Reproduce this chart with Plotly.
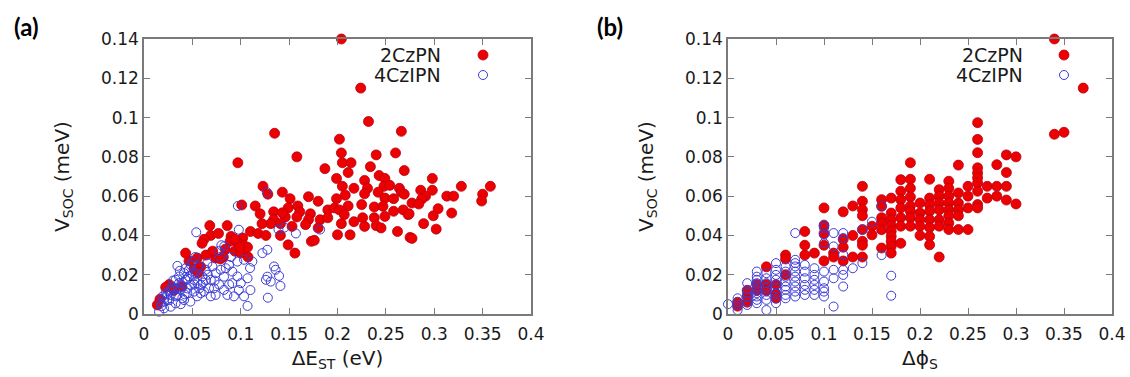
import plotly.graph_objects as go

# ---------------- Panel (a): V_SOC vs dE_ST ----------------
a_red = [
    (0.204, 0.140), (0.224, 0.115), (0.232, 0.098), (0.266, 0.093), (0.135, 0.092), (0.202, 0.089),
    (0.097, 0.077), (0.158, 0.080),
    (0.204, 0.082), (0.240, 0.081), (0.260, 0.082), (0.187, 0.074), (0.205, 0.077), (0.214, 0.077),
    (0.211, 0.072), (0.234, 0.075), (0.269, 0.073), (0.199, 0.069), (0.228, 0.068), (0.243, 0.0705),
    (0.249, 0.069), (0.205, 0.065), (0.217, 0.064), (0.231, 0.064), (0.248, 0.065), (0.254, 0.0655),
    (0.264, 0.064), (0.266, 0.062), (0.151, 0.0587), (0.170, 0.0597), (0.180, 0.0574), (0.199, 0.0587),
    (0.208, 0.0605), (0.228, 0.0612), (0.242, 0.062), (0.249, 0.059), (0.258, 0.0587), (0.269, 0.061),
    (0.277, 0.0565), (0.149, 0.054), (0.159, 0.055), (0.161, 0.052), (0.172, 0.051), (0.182, 0.048),
    (0.190, 0.053), (0.197, 0.054), (0.202, 0.053), (0.211, 0.055), (0.225, 0.0557), (0.238, 0.0545),
    (0.247, 0.0548), (0.258, 0.0523), (0.268, 0.053), (0.273, 0.0506), (0.146, 0.0494), (0.158, 0.0494),
    (0.170, 0.048), (0.190, 0.049), (0.207, 0.0506), (0.226, 0.049), (0.238, 0.049), (0.249, 0.0497),
    (0.153, 0.0446), (0.167, 0.0455), (0.180, 0.0438), (0.204, 0.046), (0.217, 0.047), (0.228, 0.0446),
    (0.240, 0.045), (0.245, 0.0438), (0.262, 0.042), (0.200, 0.0403), (0.213, 0.0403), (0.173, 0.037),
    (0.176, 0.0375), (0.149, 0.0352), (0.156, 0.031), (0.275, 0.039),
    (0.298, 0.069), (0.328, 0.065), (0.358, 0.065), (0.286, 0.063), (0.298, 0.063), (0.291, 0.060),
    (0.313, 0.060), (0.320, 0.060), (0.350, 0.061), (0.349, 0.0575), (0.287, 0.0585), (0.284, 0.056),
    (0.304, 0.0536), (0.318, 0.0514), (0.274, 0.051), (0.299, 0.050), (0.289, 0.046), (0.302, 0.0432),
    (0.277, 0.0385),
    (0.123, 0.065), (0.143, 0.062), (0.128, 0.061), (0.101, 0.0555), (0.115, 0.055), (0.120, 0.051),
    (0.134, 0.052), (0.143, 0.0515), (0.134, 0.048), (0.141, 0.046), (0.131, 0.046), (0.122, 0.046),
    (0.110, 0.042), (0.118, 0.041), (0.126, 0.040), (0.141, 0.040), (0.068, 0.045), (0.086, 0.045),
    (0.069, 0.040), (0.062, 0.038), (0.090, 0.0395), (0.089, 0.037), (0.102, 0.0387), (0.097, 0.036),
    (0.103, 0.035), (0.084, 0.033), (0.082, 0.029), (0.074, 0.0285), (0.055, 0.0285), (0.0465, 0.027),
    (0.043, 0.031), (0.064, 0.030), (0.094, 0.032), (0.100, 0.031), (0.1075, 0.029), (0.0586, 0.024),
    (0.0517, 0.023), (0.079, 0.028), (0.071, 0.032), (0.026, 0.015), (0.0224, 0.0136), (0.0165, 0.0075),
    (0.0138, 0.0046), (0.077, 0.041), (0.060, 0.036), (0.056, 0.021), (0.031, 0.012), (0.039, 0.014),
    (0.107, 0.034), (0.099, 0.034), (0.094, 0.038),
]

a_blue = [
    (0.054, 0.0416), (0.098, 0.0429), (0.083, 0.0345), (0.0786, 0.029), (0.090, 0.029), (0.0345, 0.0245),
    (0.050, 0.0267), (0.0655, 0.0259), (0.0707, 0.0242), (0.0965, 0.0267), (0.1034, 0.0276), (0.1096, 0.0234),
    (0.112, 0.0267), (0.1224, 0.031), (0.1275, 0.0327), (0.1344, 0.0242), (0.136, 0.0225), (0.1396, 0.0194),
    (0.1275, 0.019), (0.131, 0.0165), (0.126, 0.0174), (0.141, 0.0143), (0.128, 0.0083), (0.110, 0.0122),
    (0.1034, 0.009), (0.107, 0.0041), (0.098, 0.0122), (0.100, 0.0157), (0.107, 0.0182), (0.093, 0.009),
    (0.088, 0.015), (0.0827, 0.019), (0.0776, 0.015), (0.074, 0.0097), (0.069, 0.009), (0.062, 0.0114),
    (0.055, 0.009), (0.048, 0.0063), (0.0414, 0.0071), (0.0327, 0.0054), (0.0276, 0.0037), (0.0207, 0.0029),
    (0.0155, 0.0012),
    (0.0327, 0.0174), (0.0362, 0.0157), (0.0396, 0.014), (0.0431, 0.0174), (0.0465, 0.0191), (0.0414, 0.0208),
    (0.0379, 0.0123), (0.0448, 0.0106), (0.0483, 0.0148), (0.0517, 0.0174), (0.0552, 0.0157), (0.0603, 0.0191),
    (0.0638, 0.0225), (0.0586, 0.0148), (0.0517, 0.0114), (0.031, 0.0123), (0.0276, 0.0097), (0.0241, 0.0072),
    (0.0207, 0.0063), (0.0259, 0.0123), (0.0345, 0.0097), (0.0396, 0.008), (0.069, 0.0174), (0.0741, 0.0208),
    (0.0793, 0.0225), (0.0845, 0.0233), (0.0879, 0.025), (0.0913, 0.0216), (0.0672, 0.0131), (0.0724, 0.0131),
    (0.0465, 0.0225), (0.0534, 0.0208), (0.0569, 0.0242), (0.0483, 0.025), (0.0431, 0.0233), (0.0293, 0.014),
    (0.0224, 0.0106), (0.0172, 0.0055), (0.019, 0.0089), (0.0362, 0.0191), (0.0638, 0.0174), (0.0586, 0.0106),
    (0.0827, 0.0123), (0.0862, 0.0097), (0.0913, 0.0157), (0.0965, 0.0191),
    (0.030, 0.017), (0.037, 0.022), (0.045, 0.013), (0.050, 0.020), (0.040, 0.016), (0.035, 0.013),
    (0.042, 0.010), (0.028, 0.012), (0.026, 0.007), (0.033, 0.009), (0.045, 0.018), (0.052, 0.015),
    (0.057, 0.013), (0.061, 0.016), (0.066, 0.020), (0.073, 0.017), (0.024, 0.010), (0.018, 0.004),
    (0.021, 0.008), (0.038, 0.005),
    (0.127, 0.062), (0.097, 0.055), (0.139, 0.043), (0.157, 0.041), (0.182, 0.043), (0.145, 0.044),
    (0.053, 0.029), (0.080, 0.035), (0.077, 0.032),
]

# ---------------- Panel (b): V_SOC vs dphi_S (discrete columns) ----------------
b_red_cols = [0.01, 0.02, 0.03, 0.04, 0.05, 0.06, 0.08, 0.09, 0.10, 0.11, 0.12, 0.13, 0.14, 0.15,
              0.16, 0.17, 0.18, 0.19, 0.20, 0.21, 0.22, 0.23, 0.24, 0.25, 0.26, 0.27, 0.28, 0.29,
              0.30, 0.34, 0.35, 0.37]
b_red_vals = [
    [0.004, 0.006],
    [0.006, 0.009, 0.012],
    [0.012, 0.015],
    [0.024, 0.015, 0.012],
    [0.015, 0.010, 0.008],
    [0.030, 0.028, 0.020],
    [0.042, 0.035, 0.030],
    [0.031],
    [0.054, 0.045, 0.041, 0.035, 0.027],
    [0.031, 0.029],
    [0.052, 0.038, 0.034, 0.027],
    [0.055, 0.040, 0.029],
    [0.065, 0.0574, 0.0531, 0.050, 0.043, 0.037, 0.035, 0.029],
    [0.0447, 0.0403],
    [0.0582, 0.0548, 0.049, 0.0463, 0.0429, 0.0336],
    [0.059, 0.0514, 0.048, 0.045, 0.0421, 0.0395, 0.037, 0.0344, 0.031],
    [0.0684, 0.0625, 0.0582, 0.054, 0.049, 0.0447, 0.036],
    [0.077, 0.0686, 0.064, 0.0596, 0.055, 0.0523, 0.049, 0.0447],
    [0.0565, 0.0514, 0.048, 0.0447, 0.040],
    [0.0686, 0.059, 0.0556, 0.0523, 0.048, 0.044, 0.0395, 0.0352],
    [0.0633, 0.060, 0.0565, 0.053, 0.048, 0.0447, 0.029],
    [0.0676, 0.064, 0.060, 0.0565, 0.053, 0.050, 0.0463, 0.043],
    [0.0758, 0.0616, 0.0565, 0.053, 0.050, 0.043],
    [0.065, 0.060, 0.054, 0.043],
    [0.0974, 0.0889, 0.0821, 0.0744, 0.0718, 0.0693, 0.0667, 0.0625, 0.0557, 0.054],
    [0.065, 0.059],
    [0.076, 0.065, 0.060],
    [0.081, 0.072, 0.065, 0.058],
    [0.080, 0.056],
    [0.140, 0.0915],
    [0.0925],
    [0.115],
]

b_blue_cols = [0.00, 0.01, 0.02, 0.03, 0.04, 0.05, 0.06, 0.07, 0.08, 0.09, 0.10, 0.11, 0.12,
               0.13, 0.14, 0.15, 0.16, 0.17]
b_blue_vals = [
    [0.005],
    [0.008, 0.006, 0.0046, 0.002],
    [0.0157, 0.0123, 0.0106, 0.0089, 0.0063, 0.0046],
    [0.0216, 0.019, 0.0174, 0.0157, 0.014, 0.0123, 0.0106, 0.0089, 0.0072, 0.0055],
    [0.0208, 0.0182, 0.0157, 0.0131, 0.0114, 0.0097, 0.0072, 0.002],
    [0.0259, 0.0225, 0.0199, 0.0174, 0.0148, 0.0131, 0.0106, 0.008, 0.0055],
    [0.0242, 0.0216, 0.019, 0.0165, 0.014, 0.0123, 0.0097, 0.008],
    [0.0412, 0.0276, 0.0259, 0.0242, 0.0216, 0.019, 0.0165, 0.014, 0.0114, 0.0089],
    [0.025, 0.0216, 0.0182, 0.0148, 0.0123, 0.0097],
    [0.0233, 0.0199, 0.0174, 0.0148, 0.0123, 0.0097],
    [0.0455, 0.0438, 0.0404, 0.0361, 0.0216, 0.0165, 0.0131, 0.0114, 0.0089],
    [0.0412, 0.0344, 0.0225, 0.0182, 0.0038],
    [0.0412, 0.0387, 0.0302, 0.0225, 0.0199, 0.014],
    [0.0233],
    [0.0429, 0.0259],
    [0.047],
    [0.055, 0.030],
    [0.0195, 0.0093],
]

series_names = ["2CzPN", "4CzIPN"]
x_tick_vals = [0, 0.05, 0.1, 0.15, 0.2, 0.25, 0.3, 0.35, 0.4]
x_tick_text = ["0", "0.05", "0.1", "0.15", "0.2", "0.25", "0.3", "0.35", "0.4"]
y_tick_vals = [0, 0.02, 0.04, 0.06, 0.08, 0.1, 0.12, 0.14]
y_tick_text = ["0", "0.02", "0.04", "0.06", "0.08", "0.1", "0.12", "0.14"]


def expand(cols, vals):
    xs, ys = [], []
    for c, vs in zip(cols, vals):
        for v in vs:
            xs.append(c)
            ys.append(v)
    return xs, ys


b_red_x, b_red_y = expand(b_red_cols, b_red_vals)
b_blue_x, b_blue_y = expand(b_blue_cols, b_blue_vals)

RED = "rgb(236,0,0)"
RED_EDGE = "rgb(185,0,20)"
BLUE = "rgb(60,60,215)"

red_marker = dict(symbol="circle", size=10, color=RED, line=dict(color=RED_EDGE, width=0.8))
blue_marker = dict(symbol="circle-open", size=9, color=BLUE, line=dict(width=1))

fig = go.Figure()
fig.add_trace(go.Scatter(x=[p[0] for p in a_red], y=[p[1] for p in a_red], mode="markers",
                         marker=red_marker, name=series_names[0], xaxis="x", yaxis="y",
                         cliponaxis=False, showlegend=False))
fig.add_trace(go.Scatter(x=[p[0] for p in a_blue], y=[p[1] for p in a_blue], mode="markers",
                         marker=blue_marker, name=series_names[1], xaxis="x", yaxis="y",
                         cliponaxis=False, showlegend=False))
fig.add_trace(go.Scatter(x=b_red_x, y=b_red_y, mode="markers", marker=red_marker,
                         name=series_names[0], xaxis="x2", yaxis="y2",
                         cliponaxis=False, showlegend=False))
fig.add_trace(go.Scatter(x=b_blue_x, y=b_blue_y, mode="markers", marker=blue_marker,
                         name=series_names[1], xaxis="x2", yaxis="y2",
                         cliponaxis=False, showlegend=False))

W, H = 1130, 377
TICKFONT = dict(family="DejaVu Sans", size=17, color="#1a1a1a")
TITLEFONT = dict(family="DejaVu Sans", size=20, color="#1a1a1a")
FRAME = "#7a7a7a"

common_x = dict(range=[0, 0.4], tickvals=x_tick_vals, ticktext=x_tick_text, ticks="inside",
                ticklen=6, tickcolor=FRAME, tickwidth=1.2, showline=True, linecolor=FRAME,
                linewidth=1.5, mirror="allticks", showgrid=False, zeroline=False,
                tickfont=TICKFONT, automargin=False, ticklabelstandoff=4)
common_y = dict(range=[0, 0.14], tickvals=y_tick_vals, ticktext=y_tick_text, ticks="inside",
                ticklen=6, tickcolor=FRAME, tickwidth=1.2, showline=True, linecolor=FRAME,
                linewidth=1.5, mirror="allticks", showgrid=False, zeroline=False,
                tickfont=TICKFONT, automargin=False)

ydom = [(H - 314) / H, (H - 39) / H]
fig.update_layout(
    width=W, height=H, margin=dict(l=0, r=0, t=0, b=0),
    paper_bgcolor="white", plot_bgcolor="white", showlegend=False,
    xaxis=dict(common_x, domain=[144 / W, 531 / W], anchor="y",
               title=dict(text="ΔE<sub>ST</sub> (eV)", font=TITLEFONT, standoff=8)),
    yaxis=dict(common_y, domain=ydom, anchor="x",
               title=dict(text="V<sub>SOC</sub> (meV)", font=TITLEFONT, standoff=26)),
    xaxis2=dict(common_x, domain=[728 / W, 1112 / W], anchor="y2",
                title=dict(text="Δϕ<sub>S</sub>", font=TITLEFONT, standoff=8)),
    yaxis2=dict(common_y, domain=ydom, anchor="x2",
                title=dict(text="V<sub>SOC</sub> (meV)", font=TITLEFONT, standoff=26)),
)

# Panel labels
for txt, xpx in [("(a)", 12), ("(b)", 595)]:
    fig.add_annotation(text="<b>" + txt + "</b>", xref="paper", yref="paper",
                       x=xpx / W, y=(H - 27) / H, xanchor="left", yanchor="middle",
                       showarrow=False, font=dict(family="Lato", size=24, color="black"))

# Legends (gnuplot style: text then key on the right)
for text_right, key_x in [(443, 483), (1025, 1064)]:
    for i, (ypx, name) in enumerate([(55, series_names[0]), (75, series_names[1])]):
        fig.add_annotation(text=name, xref="paper", yref="paper", x=text_right / W,
                           y=(H - ypx) / H, xanchor="right", yanchor="middle", showarrow=False,
                           font=dict(family="DejaVu Sans", size=19, color="#1a1a1a"))
        if i == 0:
            fig.add_shape(type="circle", xref="paper", yref="paper", xsizemode="pixel",
                          ysizemode="pixel", xanchor=key_x / W, yanchor=(H - ypx) / H,
                          x0=-5, x1=5, y0=-5, y1=5, fillcolor=RED,
                          line=dict(color=RED_EDGE, width=0.8))
        else:
            fig.add_shape(type="circle", xref="paper", yref="paper", xsizemode="pixel",
                          ysizemode="pixel", xanchor=key_x / W, yanchor=(H - ypx) / H,
                          x0=-4.5, x1=4.5, y0=-4.5, y1=4.5, fillcolor="rgba(0,0,0,0)",
                          line=dict(color=BLUE, width=1))

fig.write_html("out.html")
